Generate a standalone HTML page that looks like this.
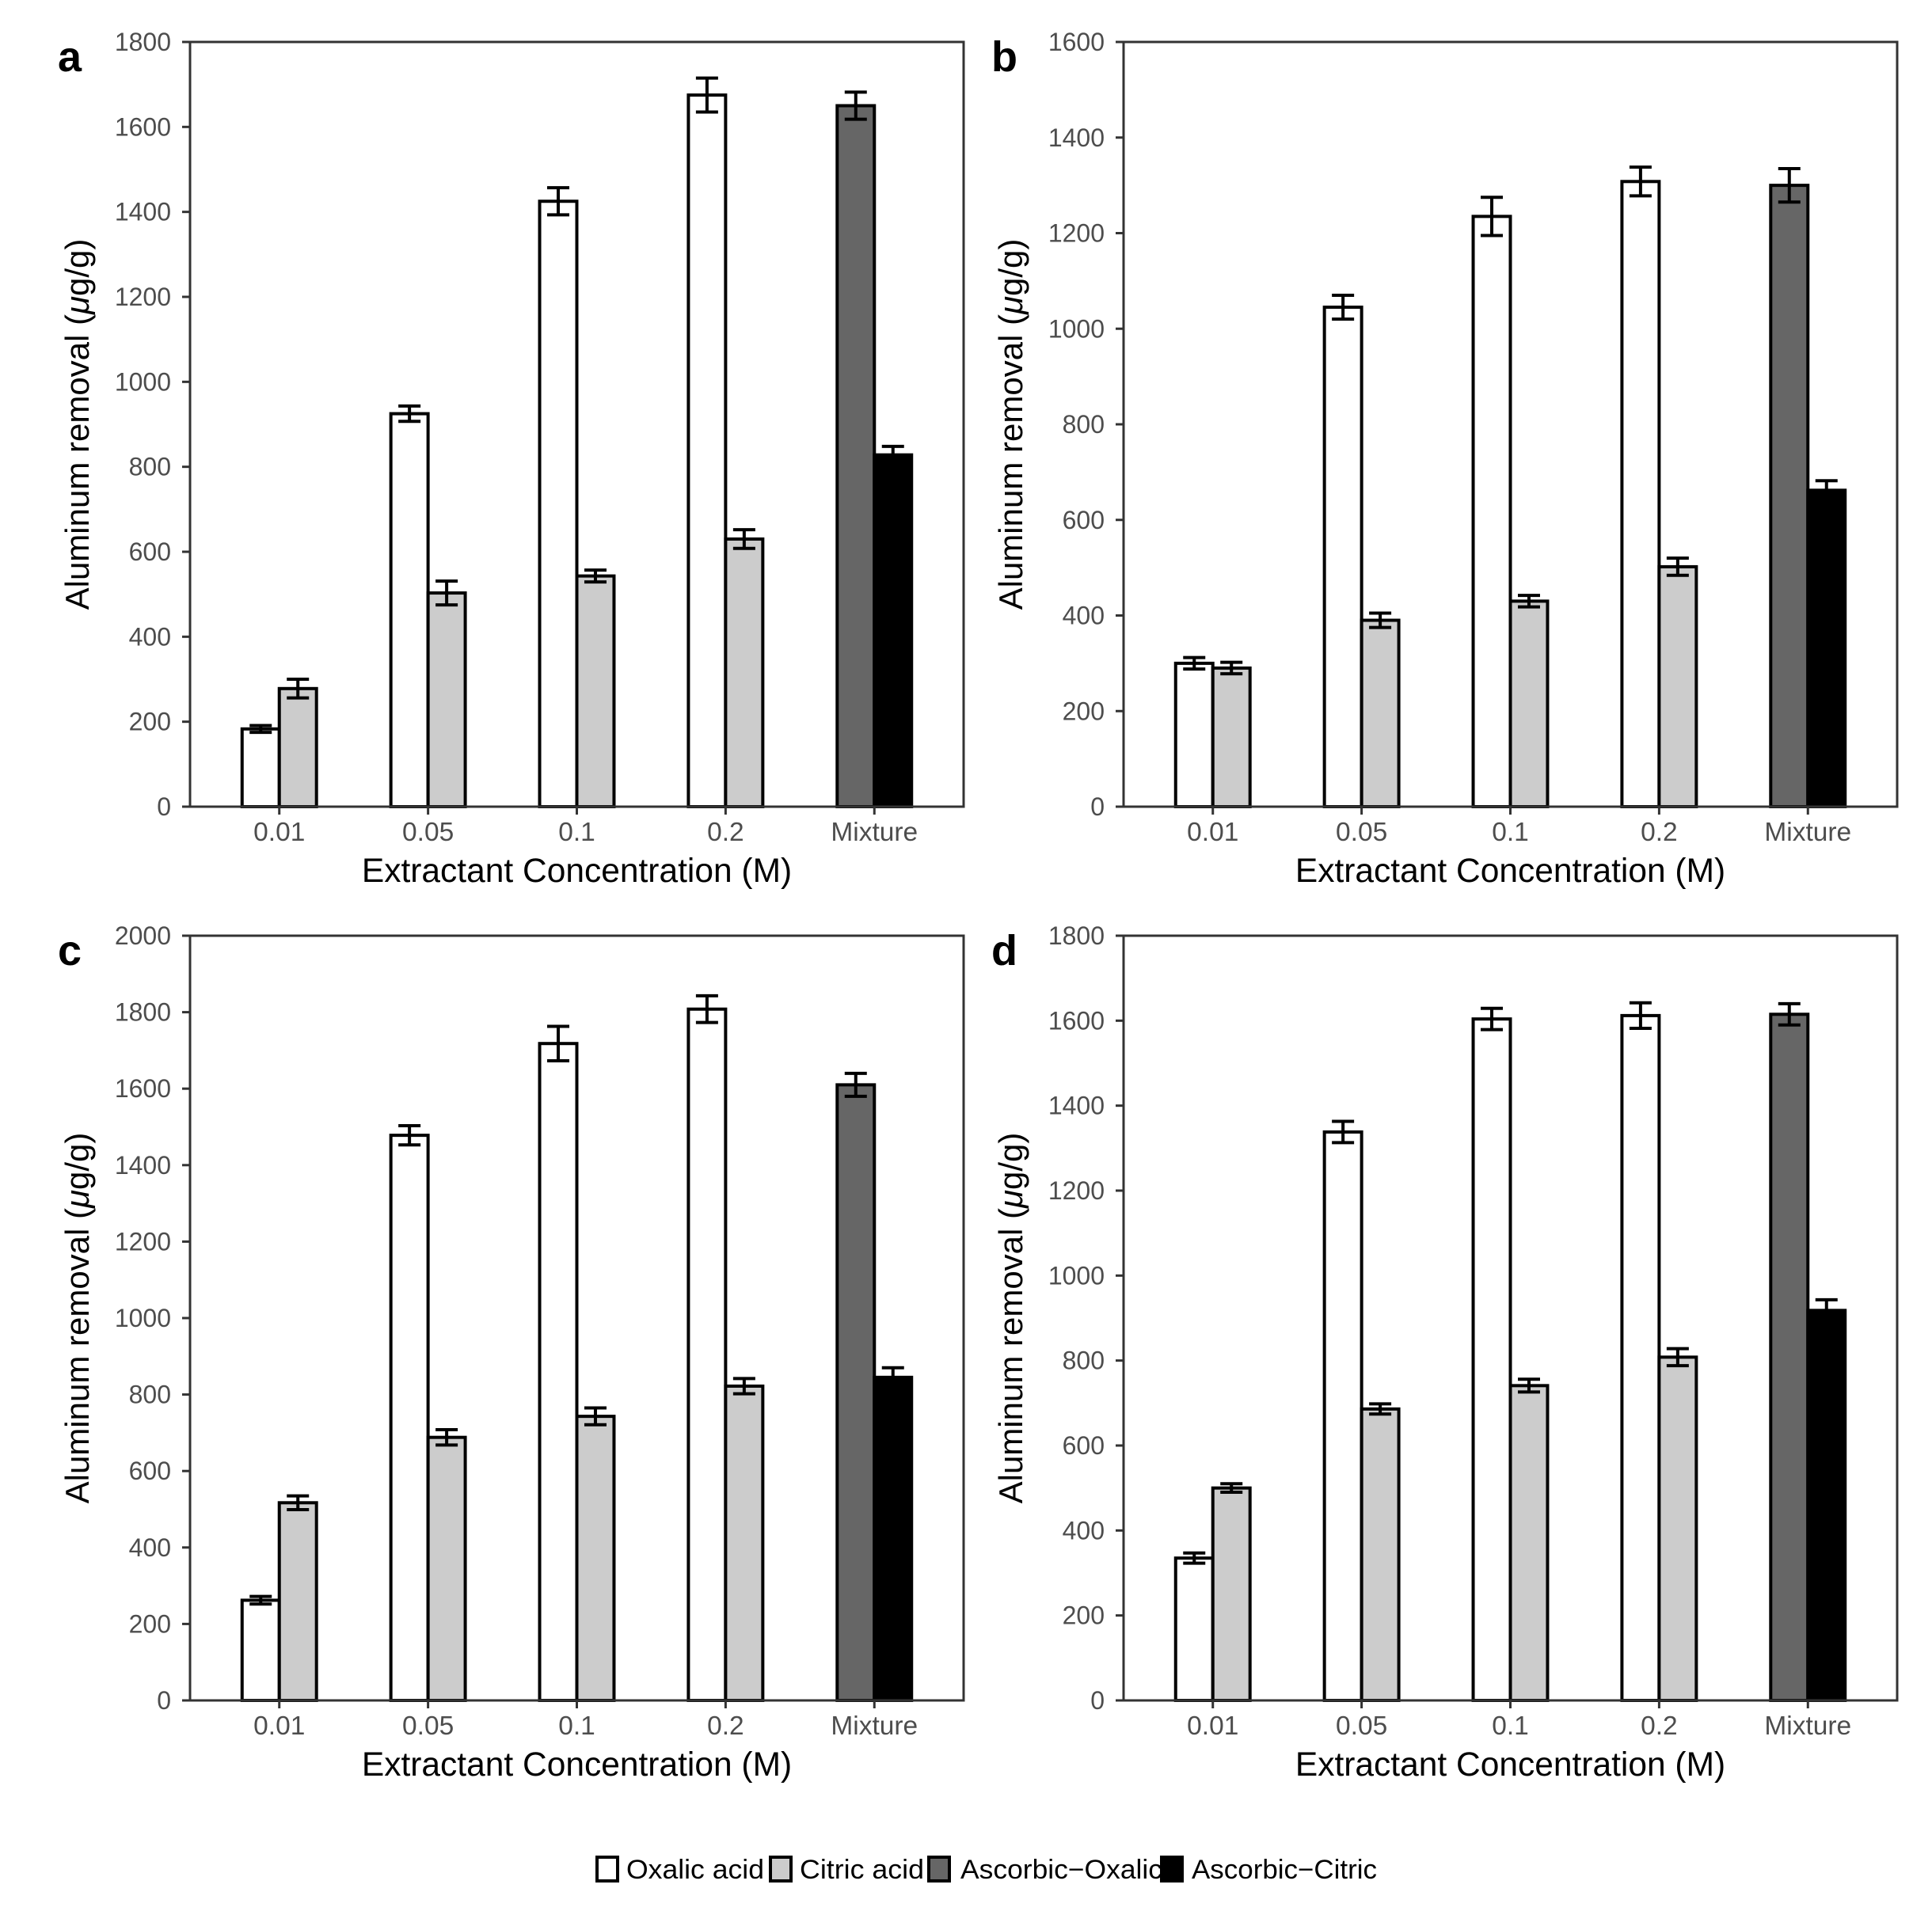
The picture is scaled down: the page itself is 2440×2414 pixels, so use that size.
<!DOCTYPE html>
<html><head><meta charset="utf-8">
<style>
html,body{margin:0;padding:0;background:#fff;}
svg{display:block;}
text{font-family:"Liberation Sans",Arial,sans-serif;}
</style></head>
<body>
<svg id="fig" width="2440" height="2414" viewBox="0 0 2440 2414" xmlns="http://www.w3.org/2000/svg"></svg>
<script>
const categories = ["0.01","0.05","0.1","0.2","Mixture"];
const panelLetters = ["a","b","c","d"];
const yMaxes = [1800,1600,2000,1800];
const yTickStep = [200,200,200,200];
// left bar (Oxalic / Ascorbic-Oxalic for Mixture), right bar (Citric / Ascorbic-Citric)
const leftVals = [
  [183,925,1425,1675,1650],
  [300,1045,1235,1308,1300],
  [262,1478,1718,1808,1610],
  [335,1338,1604,1612,1615]
];
const leftErr = [
  [8,18,32,40,32],
  [12,25,40,30,35],
  [10,25,45,35,30],
  [12,25,25,30,25]
];
const rightVals = [
  [278,503,543,630,828],
  [290,390,430,502,662],
  [517,688,743,822,845],
  [500,686,741,808,918]
];
const rightErr = [
  [22,28,14,22,20],
  [12,15,12,18,20],
  [18,20,22,20,25],
  [10,12,15,20,25]
];
const legendLabels = ["Oxalic acid","Citric acid","Ascorbic\u2212Oxalic","Ascorbic\u2212Citric"];
const legendFills = ["#ffffff","#cccccc","#666666","#000000"];

const NS="http://www.w3.org/2000/svg";
const svg=document.getElementById('fig');
function mk(tag,attrs,parent){const e=document.createElementNS(NS,tag);for(const k in attrs)e.setAttribute(k,attrs[k]);(parent||svg).appendChild(e);return e;}

const panels=[{l:240,t:53,r:1217,b:1019},{l:1419,t:53,r:2396,b:1019},{l:240,t:1182,r:1217,b:2148},{l:1419,t:1182,r:2396,b:2148}];

panels.forEach((p,pi)=>{
  const g=mk('g',{});
  
  
  const W=p.r-p.l, H=p.b-p.t;
  const unit=W/5.2;
  const xScale=i=>p.l+unit*(0.6+i);
  const yScale=v=>p.b-v/yMaxes[pi]*H;
  const bw=unit*0.25;
  categories.forEach((c,i)=>{
    const cx=xScale(i);
    const isMix=(c==="Mixture");
    const lf=isMix?"#666666":"#ffffff", rf=isMix?"#000000":"#cccccc";
    [[leftVals,leftErr,cx-bw,lf,'left'],[rightVals,rightErr,cx,rf,'right']].forEach(([vals,errs,x0,fill,side])=>{
      const v=vals[pi][i], e=errs[pi][i];
      const r=mk('rect',{x:x0,y:yScale(v),width:bw,height:yScale(0)-yScale(v),fill:fill,stroke:'#000','stroke-width':4},g);
      
      
      const ex=x0+bw/2, cap=14;
      const eb=mk('path',{d:`M${ex},${yScale(v+e)}V${yScale(v-e)}M${ex-cap},${yScale(v+e)}H${ex+cap}M${ex-cap},${yScale(v-e)}H${ex+cap}`,stroke:'#000','stroke-width':4,fill:'none'},g);
      
      
    });
  });
  const fr=mk('rect',{x:p.l,y:p.t,width:W,height:H,fill:'none',stroke:'#333','stroke-width':3},g);
  
  
  for(let v=0;v<=yMaxes[pi];v+=yTickStep[pi]){
    const y=yScale(v);
    mk('line',{x1:p.l-10,x2:p.l,y1:y,y2:y,stroke:'#333','stroke-width':3},g);
    const t=mk('text',{x:p.l-24,y:y+11,'text-anchor':'end','font-size':32,fill:'#4d4d4d'},g);
    t.textContent=v;
    
    
  }
  categories.forEach((c,i)=>{
    const x=xScale(i);
    mk('line',{x1:x,x2:x,y1:p.b,y2:p.b+10,stroke:'#333','stroke-width':3},g);
    const t=mk('text',{x:x,y:p.b+43,'text-anchor':'middle','font-size':33.5,fill:'#4d4d4d'},g);
    t.textContent=c;
    
    
  });
  const xt=mk('text',{x:(p.l+p.r)/2,y:p.b+95,'text-anchor':'middle','font-size':42.5,fill:'#000'},g);
  xt.textContent='Extractant Concentration (M)';
  
  
  const yc=(p.t+p.b)/2;
  const yt=mk('text',{x:0,y:0,transform:`translate(${p.l-128},${yc}) rotate(-90)`,'text-anchor':'middle','font-size':42,fill:'#000'},g);
  yt.innerHTML='Aluminum removal (<tspan font-style="italic">μ</tspan>g/g)';
  
  
  const lt=mk('text',{x:p.l-167,y:p.t+37,'font-size':54,'font-weight':'bold',fill:'#000'},g);
  lt.textContent=panelLetters[pi];
  
  
});

const lg=mk('g',{});


const keyX=[754,973,1173,1467], txtX=[791,1010,1213,1505], txtW=[174,157,255,234];
legendLabels.forEach((lab,i)=>{
  const k=mk('rect',{x:keyX[i],y:2346,width:26,height:30,fill:legendFills[i],stroke:'#000','stroke-width':4},lg);
  
  
  const t=mk('text',{x:txtX[i],y:2373,'font-size':34,fill:'#000',textLength:txtW[i],lengthAdjust:'spacingAndGlyphs'},lg);
  t.textContent=lab;
  
  
});
</script>
</body></html>
